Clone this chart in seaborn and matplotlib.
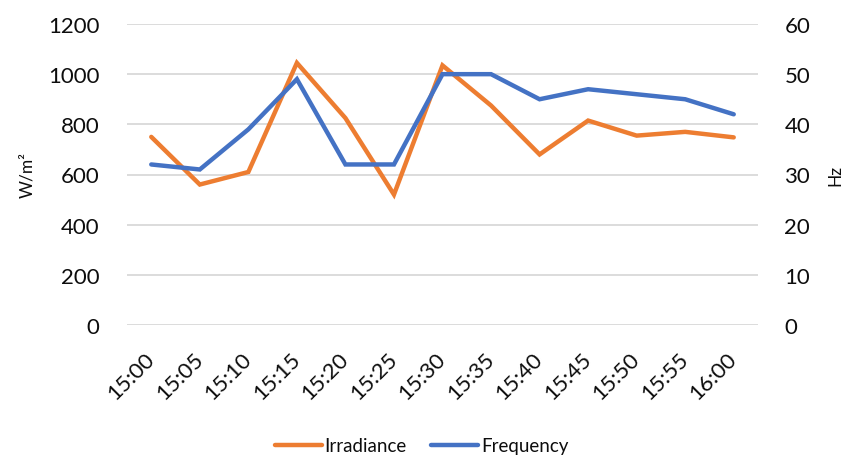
import matplotlib
matplotlib.use("Agg")
import matplotlib.pyplot as plt
from matplotlib.lines import Line2D
import seaborn as sns
import pandas as pd

times = ["15:00", "15:05", "15:10", "15:15", "15:20", "15:25", "15:30",
         "15:35", "15:40", "15:45", "15:50", "15:55", "16:00"]
irradiance = [750, 560, 610, 1045, 825, 520, 1035, 875, 680, 815, 755, 770, 748]
frequency = [32, 31, 39, 49, 32, 32, 50, 50, 45, 47, 46, 45, 42]
irr_ticks = [0, 200, 400, 600, 800, 1000, 1200]
freq_ticks = [0, 10, 20, 30, 40, 50, 60]

ORANGE = "#ED7D31"
BLUE = "#4472C4"
GRID = "#D9D9D9"
TEXT = "#0D0D0D"

sns.set_theme(style="white")
plt.rcParams["font.family"] = ["Lato", "DejaVu Sans"]
plt.rcParams["text.color"] = TEXT
plt.rcParams["axes.labelcolor"] = TEXT
plt.rcParams["xtick.color"] = TEXT
plt.rcParams["ytick.color"] = TEXT

df = pd.DataFrame({"time": times, "irr": irradiance, "freq": frequency})
df["pos"] = range(len(df))

fig = plt.figure(figsize=(8.43, 4.56), dpi=100)
ax = fig.add_axes([127 / 843, 1 - 326 / 456, (758 - 127) / 843, (326 - 25) / 456])
ax2 = ax.twinx()

sns.lineplot(data=df, x="pos", y="irr", ax=ax, color=ORANGE, linewidth=3.2,
             sort=False, solid_capstyle="round", solid_joinstyle="miter", zorder=3)
sns.lineplot(data=df, x="pos", y="freq", ax=ax2, color=BLUE, linewidth=3.2,
             sort=False, solid_capstyle="round", solid_joinstyle="miter", zorder=3)

ax.set_xlim(-0.5, len(times) - 0.5)
ax.set_ylim(0, 1200)
ax2.set_ylim(0, 60)
ax.set_yticks(irr_ticks)
ax2.set_yticks(freq_ticks)
ax.set_xticks(range(len(times)))
ax.set_xticklabels(times, rotation=45, ha="right", va="center",
                   rotation_mode="anchor", fontsize=16)
ax.tick_params(axis="x", length=0, pad=22)
ax.tick_params(axis="y", length=0, pad=20, labelsize=16)
ax2.tick_params(axis="y", length=0, pad=19, labelsize=16)

ax.grid(axis="y", color=GRID, linewidth=1.3)
ax.set_axisbelow(True)
for a in (ax, ax2):
    for s in a.spines.values():
        s.set_visible(False)

ax.set_xlabel("")
ax.set_ylabel("W/m²", fontsize=12.5, labelpad=9)
ax2.set_ylabel("Hz", fontsize=12.5, rotation=90, labelpad=12)

handles = [Line2D([], [], color=ORANGE, linewidth=3.2, solid_capstyle="round"),
           Line2D([], [], color=BLUE, linewidth=3.2, solid_capstyle="round")]
fig.legend(handles, ["Irradiance", "Frequency"], loc="center",
           bbox_to_anchor=(0.5, 1 - 447 / 456), ncol=2, frameon=False,
           fontsize=13.5, handlelength=2.5, handletextpad=0.15, columnspacing=1.3)

fig.savefig("out.png", dpi=100, facecolor="white")
